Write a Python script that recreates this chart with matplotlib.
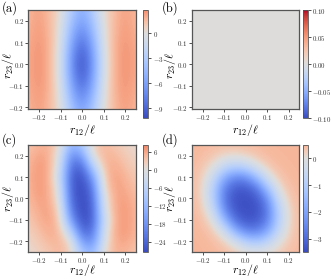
import numpy as np
import matplotlib
matplotlib.use("Agg")
import matplotlib.pyplot as plt
from matplotlib.colors import ListedColormap, Normalize
from matplotlib.ticker import FuncFormatter

plt.rcParams["font.family"] = "serif"
plt.rcParams["font.serif"] = ["cmr10"]
plt.rcParams["mathtext.fontset"] = "cm"
plt.rcParams["axes.formatter.use_mathtext"] = True

# grid of sample points (r12, r23), rows run from r23 = +0.25 down to -0.25
r_grid = [-0.25, -0.2, -0.15, -0.1, -0.05, 0.0, 0.05, 0.1, 0.15, 0.2, 0.25]
axis_ticks = [-0.2, -0.1, 0.0, 0.1, 0.2]

field_a = [
    [1.6, 2.3, 1.5, 0.3, -3.0, -5.3, -3.0, 0.3, 1.5, 2.3, 1.6],
    [1.7, 2.4, 1.6, 0.1, -3.7, -6.2, -3.7, 0.1, 1.6, 2.4, 1.7],
    [1.8, 2.5, 1.7, -0.1, -4.6, -7.4, -4.6, -0.1, 1.7, 2.5, 1.8],
    [1.9, 2.6, 1.8, -0.3, -5.5, -8.6, -5.5, -0.3, 1.8, 2.6, 1.9],
    [2.0, 2.7, 1.8, -0.5, -6.2, -9.6, -6.2, -0.5, 1.8, 2.7, 2.0],
    [2.0, 2.7, 1.8, -0.6, -6.5, -10.0, -6.5, -0.6, 1.8, 2.7, 2.0],
    [2.0, 2.7, 1.8, -0.5, -6.2, -9.6, -6.2, -0.5, 1.8, 2.7, 2.0],
    [1.9, 2.6, 1.8, -0.3, -5.5, -8.6, -5.5, -0.3, 1.8, 2.6, 1.9],
    [1.8, 2.5, 1.7, -0.1, -4.6, -7.4, -4.6, -0.1, 1.7, 2.5, 1.8],
    [1.7, 2.4, 1.6, 0.1, -3.7, -6.2, -3.7, 0.1, 1.6, 2.4, 1.7],
    [1.6, 2.3, 1.5, 0.3, -3.0, -5.3, -3.0, 0.3, 1.5, 2.3, 1.6],
]

field_b = [[0.0] * 11 for _ in range(11)]

field_c = [
    [3.0, 4.9, 4.8, 0.4, -13.0, -9.0, 2.0, 4.4, 3.1, 1.8, 0.9],
    [4.0, 6.1, 5.1, -2.0, -19.0, -17.0, 0.4, 4.6, 4.5, 2.8, 1.4],
    [4.5, 6.9, 5.4, -3.2, -23.0, -24.0, -8.0, 3.8, 5.6, 3.8, 2.0],
    [4.6, 6.9, 5.0, -5.0, -25.0, -27.0, -17.0, 2.1, 6.4, 4.8, 2.9],
    [4.5, 6.9, 5.4, -2.7, -25.0, -27.5, -22.0, 0.9, 6.1, 5.6, 3.4],
    [4.1, 6.4, 5.5, -1.5, -24.0, -27.5, -24.0, -1.5, 5.5, 6.4, 4.1],
    [3.4, 5.6, 6.1, 0.9, -22.0, -27.5, -25.0, -2.7, 5.4, 6.9, 4.5],
    [2.9, 4.8, 6.4, 2.1, -17.0, -27.0, -25.0, -5.0, 5.0, 6.9, 4.6],
    [2.0, 3.8, 5.6, 3.8, -8.0, -24.0, -23.0, -3.2, 5.4, 6.9, 4.5],
    [1.4, 2.8, 4.5, 4.6, 0.4, -17.0, -19.0, -2.0, 5.1, 6.1, 4.0],
    [0.9, 1.8, 3.1, 4.4, 2.0, -9.0, -13.0, 0.4, 4.8, 4.9, 3.0],
]

field_d = [
    [0.46, 0.44, 0.41, 0.38, 0.38, 0.40, 0.43, 0.45, 0.46, 0.46, 0.46],
    [0.44, 0.40, 0.30, 0.15, 0.10, 0.19, 0.33, 0.42, 0.45, 0.46, 0.46],
    [0.43, 0.32, 0.02, -0.55, -0.90, -0.67, -0.10, 0.28, 0.42, 0.45, 0.46],
    [0.41, 0.23, -0.48, -1.78, -2.47, -2.37, -1.43, -0.20, 0.31, 0.43, 0.46],
    [0.41, 0.16, -0.90, -2.57, -3.21, -3.24, -2.78, -1.30, 0.05, 0.38, 0.45],
    [0.42, 0.19, -0.93, -2.77, -3.39, -3.44, -3.30, -2.36, -0.44, 0.30, 0.43],
    [0.43, 0.28, -0.56, -2.48, -3.33, -3.44, -3.39, -2.75, -0.88, 0.20, 0.42],
    [0.45, 0.37, -0.05, -1.56, -2.95, -3.33, -3.28, -2.64, -0.95, 0.16, 0.41],
    [0.46, 0.42, 0.27, -0.36, -1.77, -2.60, -2.67, -2.00, -0.60, 0.21, 0.41],
    [0.46, 0.45, 0.40, 0.23, -0.25, -0.97, -1.23, -0.77, -0.08, 0.30, 0.42],
    [0.46, 0.46, 0.44, 0.40, 0.29, 0.10, -0.02, 0.07, 0.26, 0.38, 0.44],
]

# colour range and colorbar ticks of each panel
limits_a = (-10.2, 2.8)
limits_b = (-0.1, 0.1)
limits_c = (-27.5, 8.2)
limits_d = (-3.5, 0.5)
cbar_ticks_a = [0, -3, -6, -9]
cbar_ticks_b = [-0.10, -0.05, 0.00, 0.05, 0.10]
cbar_ticks_c = [6, 0, -6, -12, -18, -24]
cbar_ticks_d = [0, -1, -2, -3]


def diverging_cmap(vmin, vmax, top):
    """coolwarm with white pinned at zero, positive side stops at `top`."""
    vals = np.linspace(vmin, vmax, 256)
    pos = np.where(vals < 0, 0.5 + 0.5 * vals / -vmin, 0.5 + (top - 0.5) * vals / vmax)
    return ListedColormap(plt.cm.coolwarm(pos))


def draw_panel(fig, rect, crect, ylo, field, limits, cmap, cticks, label, lpos,
               xlab_y, ylab_y, ylab_x, cfmt=None):
    ax = fig.add_axes(rect)
    cax = fig.add_axes(crect)
    h = (r_grid[1] - r_grid[0]) / 2
    ext = [r_grid[0] - h, r_grid[-1] + h, r_grid[0] - h, r_grid[-1] + h]
    im = ax.imshow(np.array(field), extent=ext, origin="upper", cmap=cmap,
                   norm=Normalize(*limits), interpolation="bicubic", aspect="auto")
    ax.set_xlim(-0.25, 0.25)
    ax.set_ylim(ylo, 0.25)
    ax.set_xticks(axis_ticks)
    ax.set_yticks(axis_ticks)
    ax.tick_params(labelsize=5, length=2, width=0.6, pad=1.2, colors="#333333")
    ax.set_xlabel(r"$r_{12}/\ell$", fontsize=8.5)
    ax.set_ylabel(r"$r_{23}/\ell$", fontsize=8.5)
    ax.xaxis.set_label_coords(0.5, xlab_y)
    ax.yaxis.set_label_coords(ylab_x, ylab_y)
    ax.xaxis.label.set_va("center")
    ax.yaxis.label.set_va("center")
    for s in ax.spines.values():
        s.set_color("#555555")
        s.set_linewidth(0.9)
    cb = fig.colorbar(im, cax=cax, ticks=cticks)
    if cfmt is not None:
        cb.ax.yaxis.set_major_formatter(cfmt)
    cb.ax.tick_params(labelsize=5, length=2, width=0.6, pad=1.5, colors="#333333")
    cb.outline.set_edgecolor("#555555")
    cb.outline.set_linewidth(0.6)
    fig.text(lpos[0], lpos[1], label, fontsize=9, va="center", ha="left")


fig = plt.figure(figsize=(3.31, 2.79), dpi=100)

w = 0.3248
top_ax_y, top_ax_h = 0.611, 0.353
top_cb_y, top_cb_h = 0.577, 0.387
bot_y, bot_h = 0.0968, 0.3835
two_dec = FuncFormatter(lambda v, p: "$%.2f$" % v)

draw_panel(fig, [0.0861, top_ax_y, w, top_ax_h], [0.432, top_cb_y, 0.0151, top_cb_h],
           -0.205, field_a, limits_a, diverging_cmap(*limits_a, 0.78), cbar_ticks_a,
           "(a)", (0.004, 0.972), -0.22, 0.44, -0.19)
draw_panel(fig, [0.58, top_ax_y, w, top_ax_h], [0.914, top_cb_y, 0.0151, top_cb_h],
           -0.205, field_b, limits_b, plt.cm.coolwarm, cbar_ticks_b,
           "(b)", (0.488, 0.972), -0.22, 0.44, -0.2, cfmt=two_dec)
draw_panel(fig, [0.0861, bot_y, w, bot_h], [0.432, bot_y, 0.0151, bot_h],
           -0.25, field_c, limits_c, diverging_cmap(*limits_c, 0.8), cbar_ticks_c,
           "(c)", (0.004, 0.498), -0.172, 0.5, -0.19)
draw_panel(fig, [0.58, bot_y, w, bot_h], [0.914, bot_y, 0.0151, bot_h],
           -0.25, field_d, limits_d, diverging_cmap(*limits_d, 0.68), cbar_ticks_d,
           "(d)", (0.488, 0.498), -0.172, 0.5, -0.2)

fig.savefig("out.png", dpi=100)
